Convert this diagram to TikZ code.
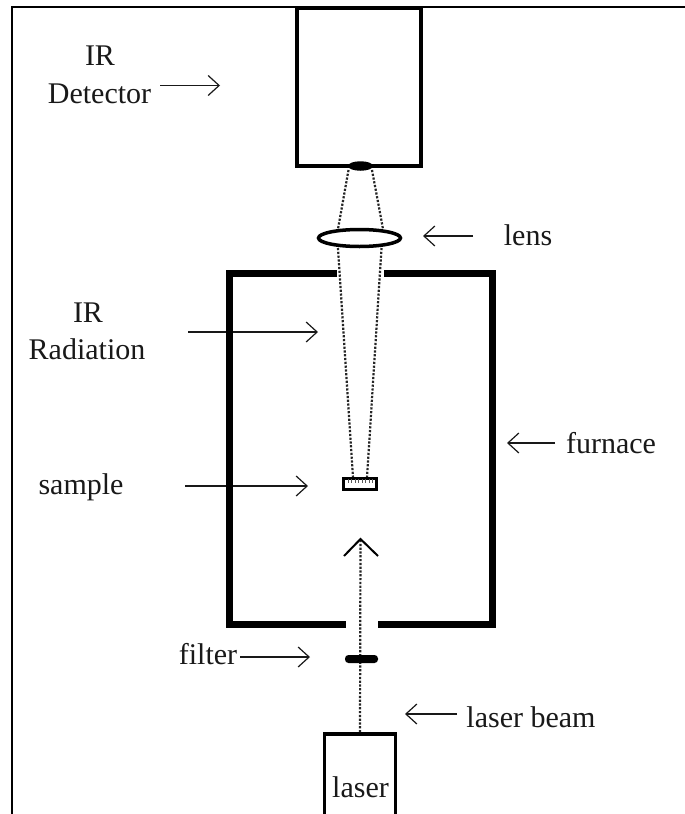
\documentclass[tikz,border=0pt]{standalone}
\usepackage{fontspec}
\setmainfont{Liberation Serif}
\usetikzlibrary{arrows.meta,shapes.geometric}
\tikzset{
 lbl/.style={inner sep=0pt,anchor=base,font=\fontsize{30}{32}\selectfont,text=black!90},
 frame/.style={line width=2pt,draw=black},
 wall/.style={line width=7pt,draw=black,line cap=butt,line join=miter},
 boxx/.style={line width=3.6pt,draw=black,fill=white,inner sep=0pt},
 ray/.style={line width=2.2pt,draw=black!85,dash pattern=on 2.2pt off 1.6pt},
 pointer/.style={line width=1.2pt,draw=black!90,-{Straight Barb[length=11pt,width=20pt,line width=1.2pt]}},
}
\begin{document}
\begin{tikzpicture}[x=1pt,y=-1pt]
\useasboundingbox (0,0) rectangle (685,814);
\fill[white] (0,0) rectangle (685,814);
% outer frame
\coordinate (fa) at (12,814); \coordinate (fb) at (12,6.5); \coordinate (fc) at (685,6.5);
\draw[frame] (fa) -- (fb) -- (fc);
% beams
\coordinate (dl) at (348.5,170); \coordinate (dr) at (372,170);
\coordinate (ll) at (338,229); \coordinate (lr) at (383,229);
\coordinate (ml) at (338,248); \coordinate (mr) at (381.5,248);
\coordinate (sl) at (353,478); \coordinate (sr) at (367,478);
\draw[ray] (dl) -- (ll); \draw[ray] (dr) -- (lr);
\draw[ray] (ml) -- (sl); \draw[ray] (mr) -- (sr);
% detector
\node[boxx,minimum width=124pt,minimum height=158pt] (det) at (359,87) {};
\node[fill=black,ellipse,minimum width=25pt,minimum height=9.5pt,inner sep=0pt] (aperture) at (360.5,166) {};
% lens
\node[draw=black,line width=3.5pt,fill=white,ellipse,minimum width=82pt,minimum height=17pt,inner sep=0pt] (lens) at (359.5,238) {};
% furnace
\coordinate (f1) at (337,273.5); \coordinate (f2) at (229,273.5); \coordinate (f3) at (229,624); \coordinate (f4) at (346,624);
\coordinate (f5) at (384,273.5); \coordinate (f6) at (492,273.5); \coordinate (f7) at (492,624); \coordinate (f8) at (378,624);
% labels and pointers
\node[lbl] (t1) at (100,65) {IR};
\node[lbl] (t2) at (99.5,103) {Detector};
\node[lbl] (t3) at (528,245) {lens};
\node[lbl] (t4) at (88,322) {IR};
\node[lbl] (t5) at (87,359) {Radiation};
\node[lbl] (t6) at (611,453) {furnace};
\node[lbl] (t7) at (81,494) {sample};
\node[lbl] (t9) at (208,664) {filter};
\node[lbl] (t10) at (531,727) {laser beam};
\coordinate (a1) at (160,85.5); \coordinate (a1e) at (220,85.5);
\coordinate (a2) at (473,236); \coordinate (a2e) at (423,236);
\coordinate (a3) at (188,332); \coordinate (a3e) at (318,332);
\coordinate (a4) at (555,443); \coordinate (a4e) at (507,443);
\coordinate (a5) at (185,486); \coordinate (a5e) at (308,486);
\coordinate (a6) at (240,657); \coordinate (a6e) at (310,657);
\coordinate (a7) at (457,714); \coordinate (a7e) at (405,714);
\draw[pointer] (a1) -- (a1e);
\draw[pointer] (a2) -- (a2e);
\draw[pointer] (a3) -- (a3e);
\draw[pointer] (a4) -- (a4e);
\draw[pointer] (a5) -- (a5e);
\draw[pointer] (a6) -- (a6e);
\draw[pointer] (a7) -- (a7e);
\draw[wall] (f1) -- (f2) -- (f3) -- (f4);
\draw[wall] (f5) -- (f6) -- (f7) -- (f8);
% sample
\node[draw=black,line width=3pt,fill=white,minimum width=33pt,minimum height=11pt,inner sep=0pt] (sample) at (360,484) {};
\foreach \i in {0,...,7}{\draw[black!65,line width=1pt] (348+\i*3.5,479) -- (348+\i*3.5,483);}
% laser
\node[boxx,minimum width=71pt,minimum height=90pt,anchor=north] (laser) at (360,732.2) {};
\node[lbl] (lasertxt) at (360.5,797) {laser};
% laser beam and head
\coordinate (tipb) at (360.5,539);
\draw[ray] (laser.north) -- (tipb);
\node[fill=black,rounded corners=3.5pt,minimum width=33pt,minimum height=8pt,inner sep=0pt] (filter) at (361.5,659) {};
\coordinate (hl) at (344,556); \coordinate (hr) at (378,556);
\draw[line width=2pt,black] (hl) -- (tipb) -- (hr);
\end{tikzpicture}
\end{document}
